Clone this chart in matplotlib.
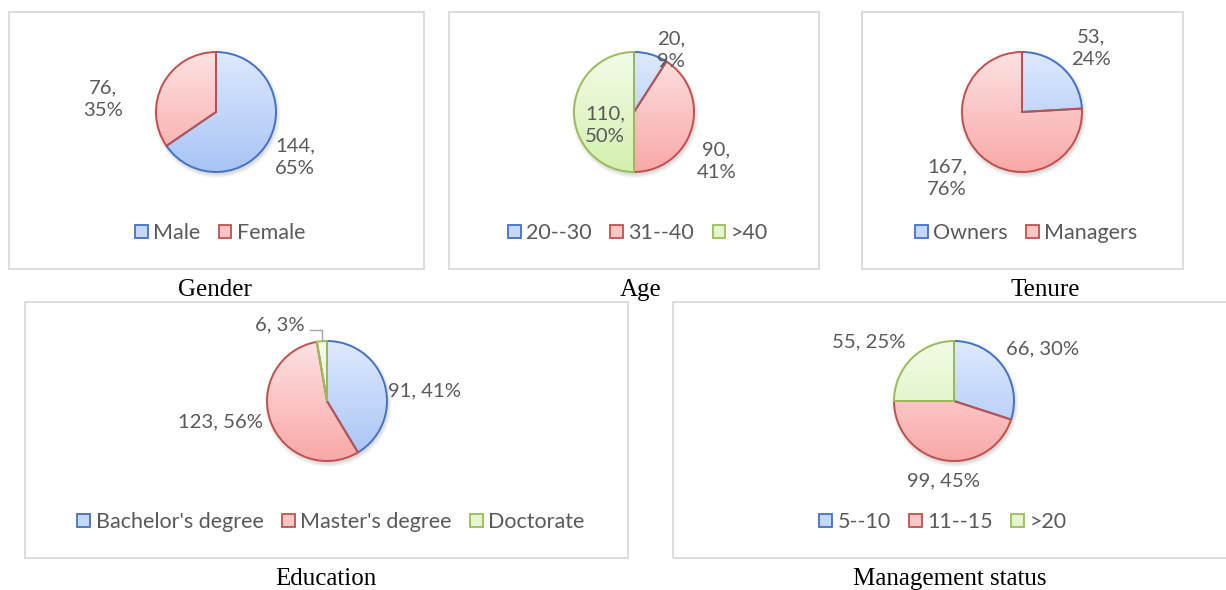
import matplotlib
matplotlib.use("Agg")
import matplotlib.pyplot as plt
import numpy as np
from matplotlib.patches import Patch, Rectangle, Circle
from matplotlib.colors import LinearSegmentedColormap

W, H = 1226, 590
R = 60  # pie radius in pixels

# data
gender_names = ["Male", "Female"]
gender_counts = [144, 76]
age_names = ["20--30", "31--40", ">40"]
age_counts = [20, 90, 110]
tenure_names = ["Owners", "Managers"]
tenure_counts = [53, 167]
edu_names = ["Bachelor's degree", "Master's degree", "Doctorate"]
edu_counts = [91, 123, 6]
mgmt_names = ["5--10", "11--15", ">20"]
mgmt_counts = [66, 99, 55]

# styles
edge_cols = ["#4472c4", "#c0504d", "#9bbb59"]
top_cols = ["#dee9fc", "#fde2e2", "#f3fbe8"]
bot_cols = ["#a7c4f6", "#f8a8a7", "#d3f0ae"]
mid_cols = ["#c5d8f9", "#fbc6c5", "#e4f6cd"]
txt_col = "#595959"
LABEL_FONT = ["Lato", "DejaVu Sans"]


def fig_xy(x, y):
    return x / W, 1 - y / H


def panel(fig, box, title, title_xy):
    x0, y0, x1, y1 = box
    fig.add_artist(Rectangle((x0 / W, 1 - y1 / H), (x1 - x0) / W, (y1 - y0) / H,
                             transform=fig.transFigure, fill=False,
                             edgecolor="#d9d9d9", linewidth=1.3))
    fig.text(*fig_xy(*title_xy), title, ha="center", va="center",
             family="Liberation Serif", fontsize=18, color="black")


def pie(fig, center, counts, names, label_pos, two_line, legend_xy, leader=None):
    cx, cy = center
    ax = fig.add_axes([(cx - R) / W, 1 - (cy + R) / H, 2 * R / W, 2 * R / H])
    n = len(counts)
    # soft shadow
    for k in range(6):
        ax.add_patch(Circle((0.02, -0.04), 1.0 + 0.012 * k, color="black",
                            alpha=0.025, lw=0, zorder=1, clip_on=False))
    wedges, _ = ax.pie(counts, startangle=90, counterclock=False, radius=1,
                       colors=["white"] * n, wedgeprops=dict(linewidth=1.4))
    grad = np.linspace(0, 1, 256).reshape(-1, 1)
    for w, e, t, b in zip(wedges, edge_cols, top_cols, bot_cols):
        w.set_edgecolor(e)
        w.set_facecolor("none")
        w.set_zorder(3)
        w.set_clip_on(False)
        cmap = LinearSegmentedColormap.from_list("g", [t, b])
        im = ax.imshow(grad, extent=[-1, 1, -1, 1], origin="upper", cmap=cmap,
                       aspect="auto", zorder=2)
        im.set_clip_path(w)
    ax.set_xlim(-1, 1)
    ax.set_ylim(-1, 1)
    ax.axis("off")

    total = sum(counts)
    sep = ",\n" if two_line else ", "
    for c, (dx, dy) in zip(counts, label_pos):
        s = f"{c}{sep}{round(100 * c / total)}%"
        ax.text(dx, dy, s, ha="center", va="center", fontsize=14.6,
                color=txt_col, family=LABEL_FONT, linespacing=1.4, zorder=5)

    if leader is not None:
        w = wedges[leader[0]]
        mid = np.deg2rad((w.theta1 + w.theta2) / 2)
        px_, py_ = np.cos(mid), np.sin(mid)
        sx, sy = leader[1]
        ax.plot([sx, px_, px_], [sy, sy, py_], color="#a6a6a6", lw=1.0,
                clip_on=False, zorder=4)

    handles = [Patch(facecolor=mc, edgecolor=ec, linewidth=1.3)
               for mc, ec in zip(mid_cols[:n], edge_cols[:n])]
    fig.legend(handles, names, loc="center", bbox_to_anchor=fig_xy(*legend_xy),
               ncol=n, frameon=False, handlelength=0.6, handleheight=0.6,
               handletextpad=0.25, columnspacing=0.85, borderaxespad=0,
               prop=dict(family=LABEL_FONT, size=15.5), labelcolor=txt_col)


fig = plt.figure(figsize=(W / 100, H / 100), dpi=100)

panel(fig, (9, 12, 424, 269), "Gender", (215, 290))
panel(fig, (449, 12, 819, 269), "Age", (641, 290))
panel(fig, (862, 12, 1183, 269), "Tenure", (1045, 290))
panel(fig, (25, 302, 628, 558), "Education", (326, 579))
panel(fig, (673, 302, 1240, 558), "Management status", (950, 579))

pie(fig, (216, 112), gender_counts, gender_names,
    [(1.32, -0.75), (-1.88, 0.22)], True, (220, 233))
pie(fig, (634, 112), age_counts, age_names,
    [(0.62, 1.03), (1.37, -0.82), (-0.48, -0.22)], True, (638, 233))
pie(fig, (1022, 112), tenure_counts, tenure_names,
    [(1.15, 1.07), (-1.25, -1.1)], True, (1026, 233))
pie(fig, (327, 401), edu_counts, edu_names,
    [(1.63, 0.17), (-1.77, -0.35), (-0.78, 1.27)], False, (331, 522),
    leader=(2, (-0.28, 1.18)))
pie(fig, (954, 401), mgmt_counts, mgmt_names,
    [(1.48, 0.87), (-0.18, -1.33), (-1.42, 0.98)], False, (943, 522))

fig.savefig("out.png", dpi=100, facecolor="white")
